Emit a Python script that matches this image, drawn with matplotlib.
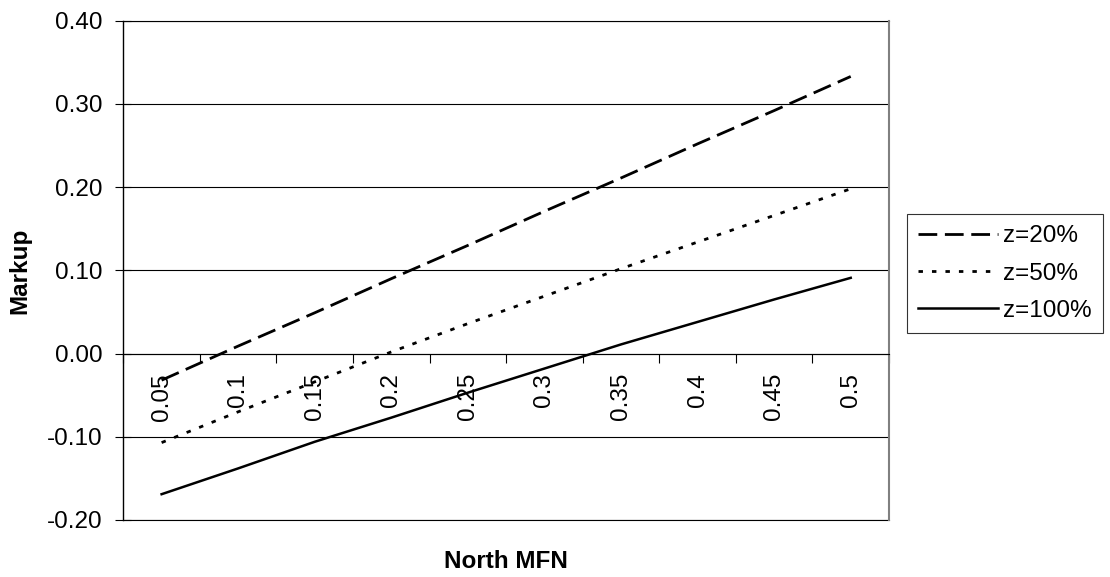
import matplotlib
matplotlib.use('Agg')
import matplotlib.pyplot as plt
from matplotlib.ticker import FormatStrFormatter

plt.rcParams['font.family'] = ['Liberation Sans', 'DejaVu Sans']
plt.rcParams['axes.unicode_minus'] = False
plt.rcParams['lines.scale_dashes'] = False

# values
north_mfn = ['0.05', '0.1', '0.15', '0.2', '0.25', '0.3', '0.35', '0.4', '0.45', '0.5']
markup_z20 = [-0.032, 0.009, 0.049, 0.090, 0.130, 0.171, 0.211, 0.252, 0.292, 0.333]
markup_z50 = [-0.107, -0.070, -0.034, 0.002, 0.036, 0.069, 0.102, 0.134, 0.166, 0.198]
markup_z100 = [-0.169, -0.138, -0.106, -0.077, -0.047, -0.018, 0.011, 0.038, 0.065, 0.091]

fig = plt.figure(figsize=(11.1, 5.77), dpi=100)
ax = fig.add_axes([0.1111, 0.0988, 0.6898, 0.8653])

x = range(len(north_mfn))
ax.plot(x, markup_z20, color='black', lw=2.0, dashes=(13.5, 5.5), label='z=20%')
ax.plot(x, markup_z50, color='black', lw=2.0, dashes=(3.2, 6.5), label='z=50%')
ax.plot(x, markup_z100, color='black', lw=1.8, label='z=100%')

ax.set_xlim(-0.5, len(north_mfn) - 0.5)
ax.set_ylim(-0.2, 0.4)
ax.set_yticks([-0.2, -0.1, 0.0, 0.1, 0.2, 0.3, 0.4])
ax.yaxis.set_major_formatter(FormatStrFormatter('%.2f'))
ax.yaxis.grid(True, color='black', lw=0.8)
ax.set_axisbelow(True)
# plot area border top and bottom
ax.axhline(0.4, color='black', lw=0.8, clip_on=False, zorder=0.5)
ax.axhline(-0.2, color='black', lw=0.8, clip_on=False, zorder=0.5)

# category axis crosses at zero
ax.spines['bottom'].set_position(('data', 0))
ax.spines['bottom'].set_linewidth(0.8)
ax.spines['left'].set_linewidth(1.0)
ax.spines['right'].set_color('#808080')
ax.spines['right'].set_linewidth(1.5)
ax.spines['top'].set_visible(False)

ax.set_xticks(list(x))
ax.set_xticklabels(north_mfn, rotation=90)
ax.set_xticks([i - 0.5 for i in range(len(north_mfn) + 1)], minor=True)
ax.tick_params(axis='x', which='major', length=0, pad=14, labelsize=17.5)
ax.tick_params(axis='x', which='minor', length=6.5, width=0.8, direction='out')
ax.tick_params(axis='y', length=11.5, width=0.8, direction='inout', pad=9, labelsize=17.5)

ax.text(-0.135, 0.5, 'Markup', transform=ax.transAxes, rotation=90,
        ha='center', va='center', fontsize=17.5, fontweight='bold')
ax.text(0.5, -0.084, 'North MFN', transform=ax.transAxes,
        ha='center', va='center', fontsize=17.5, fontweight='bold')

leg = ax.legend(loc='upper left', bbox_to_anchor=(907 / 1110, 1 - 214 / 577),
                bbox_transform=fig.transFigure, fontsize=17.5, frameon=True,
                fancybox=False, handlelength=3.3, handletextpad=0.2,
                labelspacing=0.63, borderpad=0.46, borderaxespad=0)
leg.get_frame().set_edgecolor('black')
leg.get_frame().set_linewidth(0.8)

fig.savefig('out.png', dpi=100)
